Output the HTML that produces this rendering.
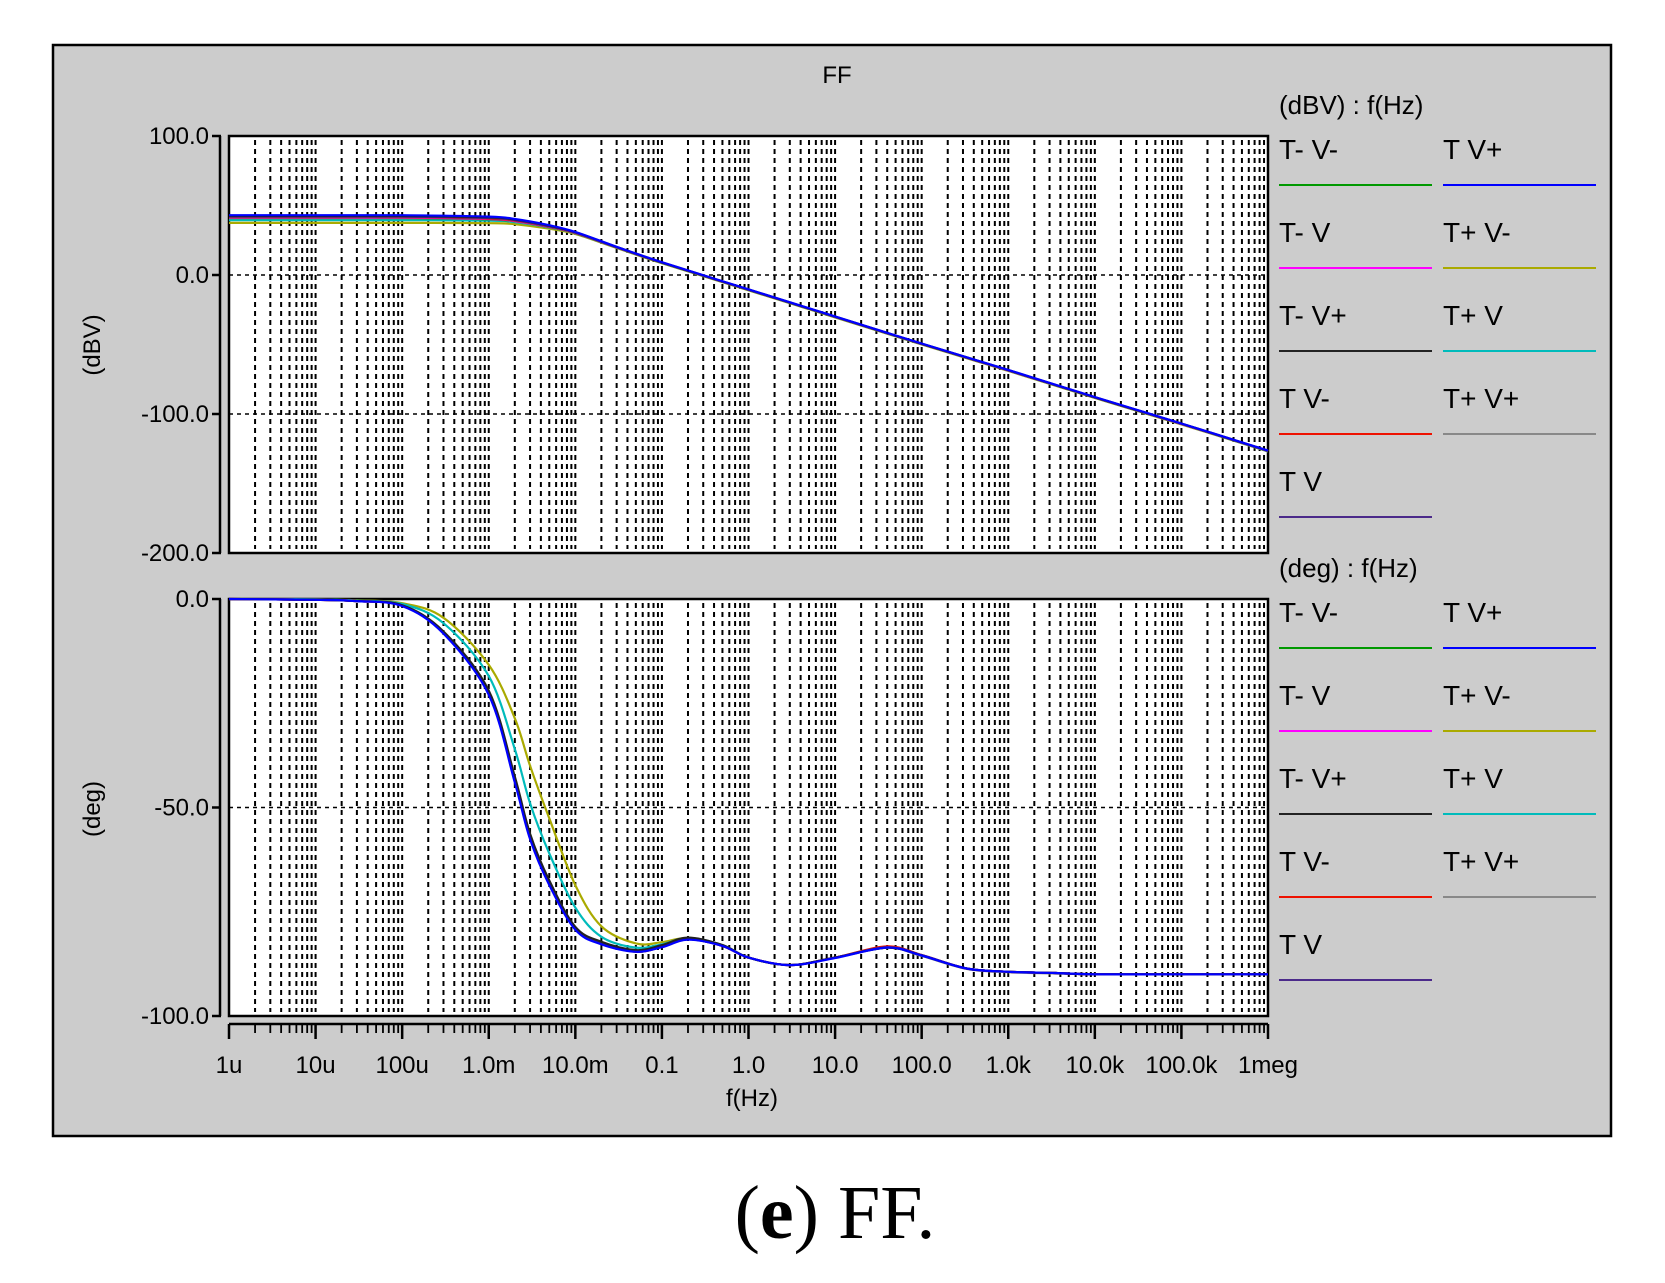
<!DOCTYPE html>
<html><head><meta charset="utf-8"><style>
html,body{margin:0;padding:0;background:#fff;}
svg{display:block;}
.sans{font-family:"Liberation Sans",Arial,sans-serif;}
</style></head><body>
<svg id="chart" width="1665" height="1283" viewBox="0 0 1665 1283" xmlns="http://www.w3.org/2000/svg">
<rect x="53" y="45" width="1558" height="1091" fill="#cccccc" stroke="#000" stroke-width="2.5"/>
<text class="sans" x="837" y="83" font-size="24" text-anchor="middle">FF</text>
<g id="grid"></g>
<g id="axes"></g>
<g id="series"></g>
<g id="legend"></g>
<text class="sans" transform="translate(100,345) rotate(-90)" font-size="24" text-anchor="middle">(dBV)</text>
<text class="sans" transform="translate(100,809) rotate(-90)" font-size="24" text-anchor="middle">(deg)</text>
<text class="sans" x="752" y="1106" font-size="24" text-anchor="middle">f(Hz)</text>
<text x="835" y="1238" font-size="76" text-anchor="middle" style="font-family:'Liberation Serif',serif">(<tspan font-weight="bold">e</tspan>) FF.</text>
</svg>
<script>
const NS="http://www.w3.org/2000/svg";
const xTickLabels=["1u","10u","100u","1.0m","10.0m","0.1","1.0","10.0","100.0","1.0k","10.0k","100.0k","1meg"];
const magTicks=[100,0,-100,-200];
const magTickLabels=["100.0","0.0","-100.0","-200.0"];
const phTicks=[0,-50,-100];
const phTickLabels=["0.0","-50.0","-100.0"];
const seriesNames=["T- V-","T V+","T- V","T+ V-","T- V+","T+ V","T V-","T+ V+","T V"];
const seriesColors=["#009900","#0000ff","#ff00ff","#aaaa00","#222222","#00bbbb","#ee1100","#888888","#4b2a8a"];
const magFreq=[1e-6,1e-5,1e-4,1e-3,2e-3,5e-3,1e-2,3e-2,0.1,1,10,100,1e3,1e4,1e5,1e6];
const magTmVm=[41,41,41,40,38.6,34.4,30.1,19.8,8.8,-10.7,-30.2,-49.7,-68.7,-88.2,-107.2,-126.7];
const magTVp=[43,43,43,42,40.3,35.8,31,20.3,9.2,-10.3,-29.8,-49.3,-68.3,-87.8,-106.8,-126.3];
const magTmV=[41.3,41.3,41.3,40.3,38.8,34.6,30.2,19.9,8.9,-10.6,-30.1,-49.6,-68.6,-88.1,-107.1,-126.6];
const magTpVm=[37.5,37.5,37.5,37.3,36.6,33.3,29.5,19.4,8.5,-11,-30.5,-50,-69,-88.5,-107.5,-127];
const magTmVp=[42.5,42.5,42.5,41.5,39.9,35.5,30.8,20.2,9.1,-10.4,-29.9,-49.4,-68.4,-87.9,-106.9,-126.4];
const magTpV=[39.5,39.5,39.5,39.1,38,34.2,30,19.7,8.7,-10.8,-30.3,-49.8,-68.8,-88.3,-107.3,-126.8];
const magTVm=[41.6,41.6,41.6,40.6,39.1,34.8,30.4,20,9,-10.5,-30,-49.5,-68.5,-88,-107,-126.5];
const magTpVp=[41,41,41,40,38.6,34.4,30.1,19.8,8.8,-10.7,-30.2,-49.7,-68.7,-88.2,-107.2,-126.7];
const magTV=[42,42,42,41,39.5,35,30.5,20,9,-10.5,-30,-49.5,-68.5,-88,-107,-126.5];
const phFreq=[1e-6,1e-5,3e-5,1e-4,3e-4,1e-3,2e-3,3e-3,5e-3,1e-2,2e-2,5e-2,0.1,0.2,0.5,1,3,10,40,100,330,1e3,3.5e3,1e4,1e5,1e6];
const phTmVm=[0,-0.2,-0.5,-1.6,-8,-22.5,-43.5,-57,-68.2,-79,-82.5,-84.6,-83.4,-81.6,-83.2,-86,-87.8,-86,-83.4,-85.4,-88.6,-89.4,-89.7,-90,-90,-90];
const phTVp=[0,-0.2,-0.5,-1.7,-8.3,-23,-44,-57.6,-68.6,-79.3,-82.8,-84.6,-83.5,-81.7,-83.2,-86,-87.8,-86.1,-83.6,-85.5,-88.6,-89.4,-89.7,-90,-90,-90];
const phTmV=[0,-0.2,-0.5,-1.6,-8,-22.4,-43.3,-57,-68.2,-79,-82.5,-84.5,-83.4,-81.6,-83.2,-86,-87.8,-86,-83.5,-85.4,-88.6,-89.4,-89.7,-90,-90,-90];
const phTpVm=[0,-0.1,-0.3,-1,-4.5,-15.8,-28.6,-40,-52.6,-68.6,-78.5,-82.6,-82.3,-81.3,-83,-86,-87.8,-86,-83.6,-85.5,-88.6,-89.4,-89.7,-90,-90,-90];
const phTmVp=[0,-0.2,-0.5,-1.5,-7.8,-22,-42.6,-56.3,-67.5,-78.6,-82.2,-84.2,-83,-81.2,-83,-86,-87.8,-86,-83.6,-85.5,-88.6,-89.4,-89.7,-90,-90,-90];
const phTpV=[0,-0.1,-0.4,-1.2,-5.8,-18.5,-36,-49,-61,-74,-81,-83.6,-82.8,-81.3,-83,-86,-87.8,-86,-83.6,-85.5,-88.6,-89.4,-89.7,-90,-90,-90];
const phTVm=[0,-0.2,-0.5,-1.6,-8.1,-22.7,-43.7,-57.2,-68.4,-79.1,-82.6,-84.6,-83.4,-81.6,-83.2,-86,-87.8,-86,-83.3,-85.4,-88.6,-89.4,-89.7,-90,-90,-90];
const phTpVp=[0,-0.2,-0.5,-1.5,-7.9,-22.2,-42.9,-56.5,-67.8,-78.8,-82.3,-84.3,-83.1,-81.3,-83,-86,-87.8,-86,-83.6,-85.6,-88.7,-89.5,-89.8,-90,-90,-90];
const phTV=[0,-0.2,-0.5,-1.6,-8,-22.6,-43.6,-57.1,-68.3,-79.1,-82.6,-84.5,-83.4,-81.6,-83.2,-86,-87.8,-86,-83.5,-85.4,-88.6,-89.4,-89.7,-90,-90,-90];
const magSeries=[magTmVm,magTVp,magTmV,magTpVm,magTmVp,magTpV,magTVm,magTpVp,magTV];
const phSeries=[phTmVm,phTVp,phTmV,phTpVm,phTmVp,phTpV,phTVm,phTpVp,phTV];

const X0=229,X1=1268,DEC0=-6,DEC1=6;
const MT=136,MB=553,PT=599,PB=1016;
function xs(f){return X0+(Math.log10(f)-DEC0)/(DEC1-DEC0)*(X1-X0);}
function ym(v){return MT+(100-v)/300*(MB-MT);}
function yp(v){return PT+(0-v)/100*(PB-PT);}
function mk(tag,attrs,parent){const e=document.createElementNS(NS,tag);for(const k in attrs)e.setAttribute(k,attrs[k]);parent.appendChild(e);return e;}

const grid=document.getElementById('grid'),axes=document.getElementById('axes'),ser=document.getElementById('series'),leg=document.getElementById('legend');
[[MT,MB,'magnitude-plot-area'],[PT,PB,'phase-plot-area']].forEach(p=>{
  const r=mk('rect',{x:X0,y:p[0],width:X1-X0,height:p[1]-p[0],fill:'#fff'},grid);
  
  
});
for(let d=DEC0;d<DEC1;d++){
  for(let m=1;m<=9;m++){
    if(d===DEC0&&m===1)continue;
    const x=xs(m*Math.pow(10,d));
    [[MT,MB],[PT,PB]].forEach(p=>{
      const l=mk('line',{x1:x,x2:x,y1:p[0]+4,y2:p[1]-4,stroke:'#000','stroke-width':2,'stroke-dasharray':'5 4'},grid);
      
      
    });
  }
}
[0,-100].forEach(v=>{const l=mk('line',{x1:X0,x2:X1,y1:ym(v),y2:ym(v),stroke:'#000','stroke-width':1.5,'stroke-dasharray':'4 4'},grid);
  
  });
[-50].forEach(v=>{const l=mk('line',{x1:X0,x2:X1,y1:yp(v),y2:yp(v),stroke:'#000','stroke-width':1.5,'stroke-dasharray':'4 4'},grid);
  
  });

function yAxis(ticks,labels,fy,top,bot,name){
  const a=mk('line',{x1:220,x2:220,y1:top,y2:bot,stroke:'#000','stroke-width':2.5},axes);
  
  
  ticks.forEach((v,i)=>{
    mk('line',{x1:212,x2:221,y1:fy(v),y2:fy(v),stroke:'#000','stroke-width':2.5},axes);
    const t=mk('text',{x:209,y:fy(v)+8,'font-size':24,'text-anchor':'end','class':'sans'},axes);
    t.textContent=labels[i];
    
    
  });
}
yAxis(magTicks,magTickLabels,ym,MT,MB,'magnitude-y');
yAxis(phTicks,phTickLabels,yp,PT,PB,'phase-y');
const xa=mk('line',{x1:X0,x2:X1,y1:1024,y2:1024,stroke:'#000','stroke-width':2.5},axes);


for(let d=DEC0;d<=DEC1;d++){
  for(let m=1;m<=9;m++){
    if(d===DEC1&&m>1)break;
    const x=xs(m*Math.pow(10,d));
    mk('line',{x1:x,x2:x,y1:1024,y2:m===1?1039:1033,stroke:'#000','stroke-width':m===1?2.5:1.8},axes);
  }
  const t=mk('text',{x:xs(Math.pow(10,d)),y:1073,'font-size':24,'text-anchor':'middle','class':'sans'},axes);
  t.textContent=xTickLabels[d-DEC0];
  
  
}
[[MT,MB],[PT,PB]].forEach(p=>{mk('rect',{x:X0,y:p[0],width:X1-X0,height:p[1]-p[0],fill:'none',stroke:'#000','stroke-width':2.5},axes);});

function pathFrom(freqs,vals,fy){
  const pts=freqs.map((f,i)=>[xs(f),fy(vals[i])]);
  let d='M'+pts[0][0].toFixed(1)+','+pts[0][1].toFixed(1);
  for(let i=0;i<pts.length-1;i++){
    const p0=pts[Math.max(0,i-1)],p1=pts[i],p2=pts[i+1],p3=pts[Math.min(pts.length-1,i+2)];
    const c1=[p1[0]+(p2[0]-p0[0])/6,p1[1]+(p2[1]-p0[1])/6];
    const c2=[p2[0]-(p3[0]-p1[0])/6,p2[1]-(p3[1]-p1[1])/6];
    d+=' C'+c1[0].toFixed(1)+','+c1[1].toFixed(1)+' '+c2[0].toFixed(1)+','+c2[1].toFixed(1)+' '+p2[0].toFixed(1)+','+p2[1].toFixed(1);
  }
  return d;
}
const drawOrder=[3,5,7,0,2,6,8,4,1];
drawOrder.forEach(i=>{
  const key=seriesNames[i].replace(/\s+/g,'').replace(/\+/g,'p').replace(/-/g,'m').toLowerCase();
  const a=mk('path',{d:pathFrom(magFreq,magSeries[i],ym),fill:'none',stroke:seriesColors[i],'stroke-width':2.2},ser);
  
  
  const b=mk('path',{d:pathFrom(phFreq,phSeries[i],yp),fill:'none',stroke:seriesColors[i],'stroke-width':2.2},ser);
  
  
});

function legend(top,header,name){
  const h=mk('text',{x:1279,y:top,'font-size':26,'class':'sans'},leg);
  h.textContent=header;
  
  
  seriesNames.forEach((n,i)=>{
    const col=i%2,row=Math.floor(i/2);
    const x=col?1443:1279, lineY=top+71+row*83;
    const t=mk('text',{x:x,y:lineY-26,'font-size':28,'class':'sans'},leg);
    t.textContent=n;
    
    
    const l=mk('line',{x1:x,x2:x+153,y1:lineY,y2:lineY,stroke:seriesColors[i],'stroke-width':2},leg);
    
    
  });
}
legend(114,'(dBV) : f(Hz)','magnitude');
legend(577,'(deg) : f(Hz)','phase');
</script>
</body></html>
